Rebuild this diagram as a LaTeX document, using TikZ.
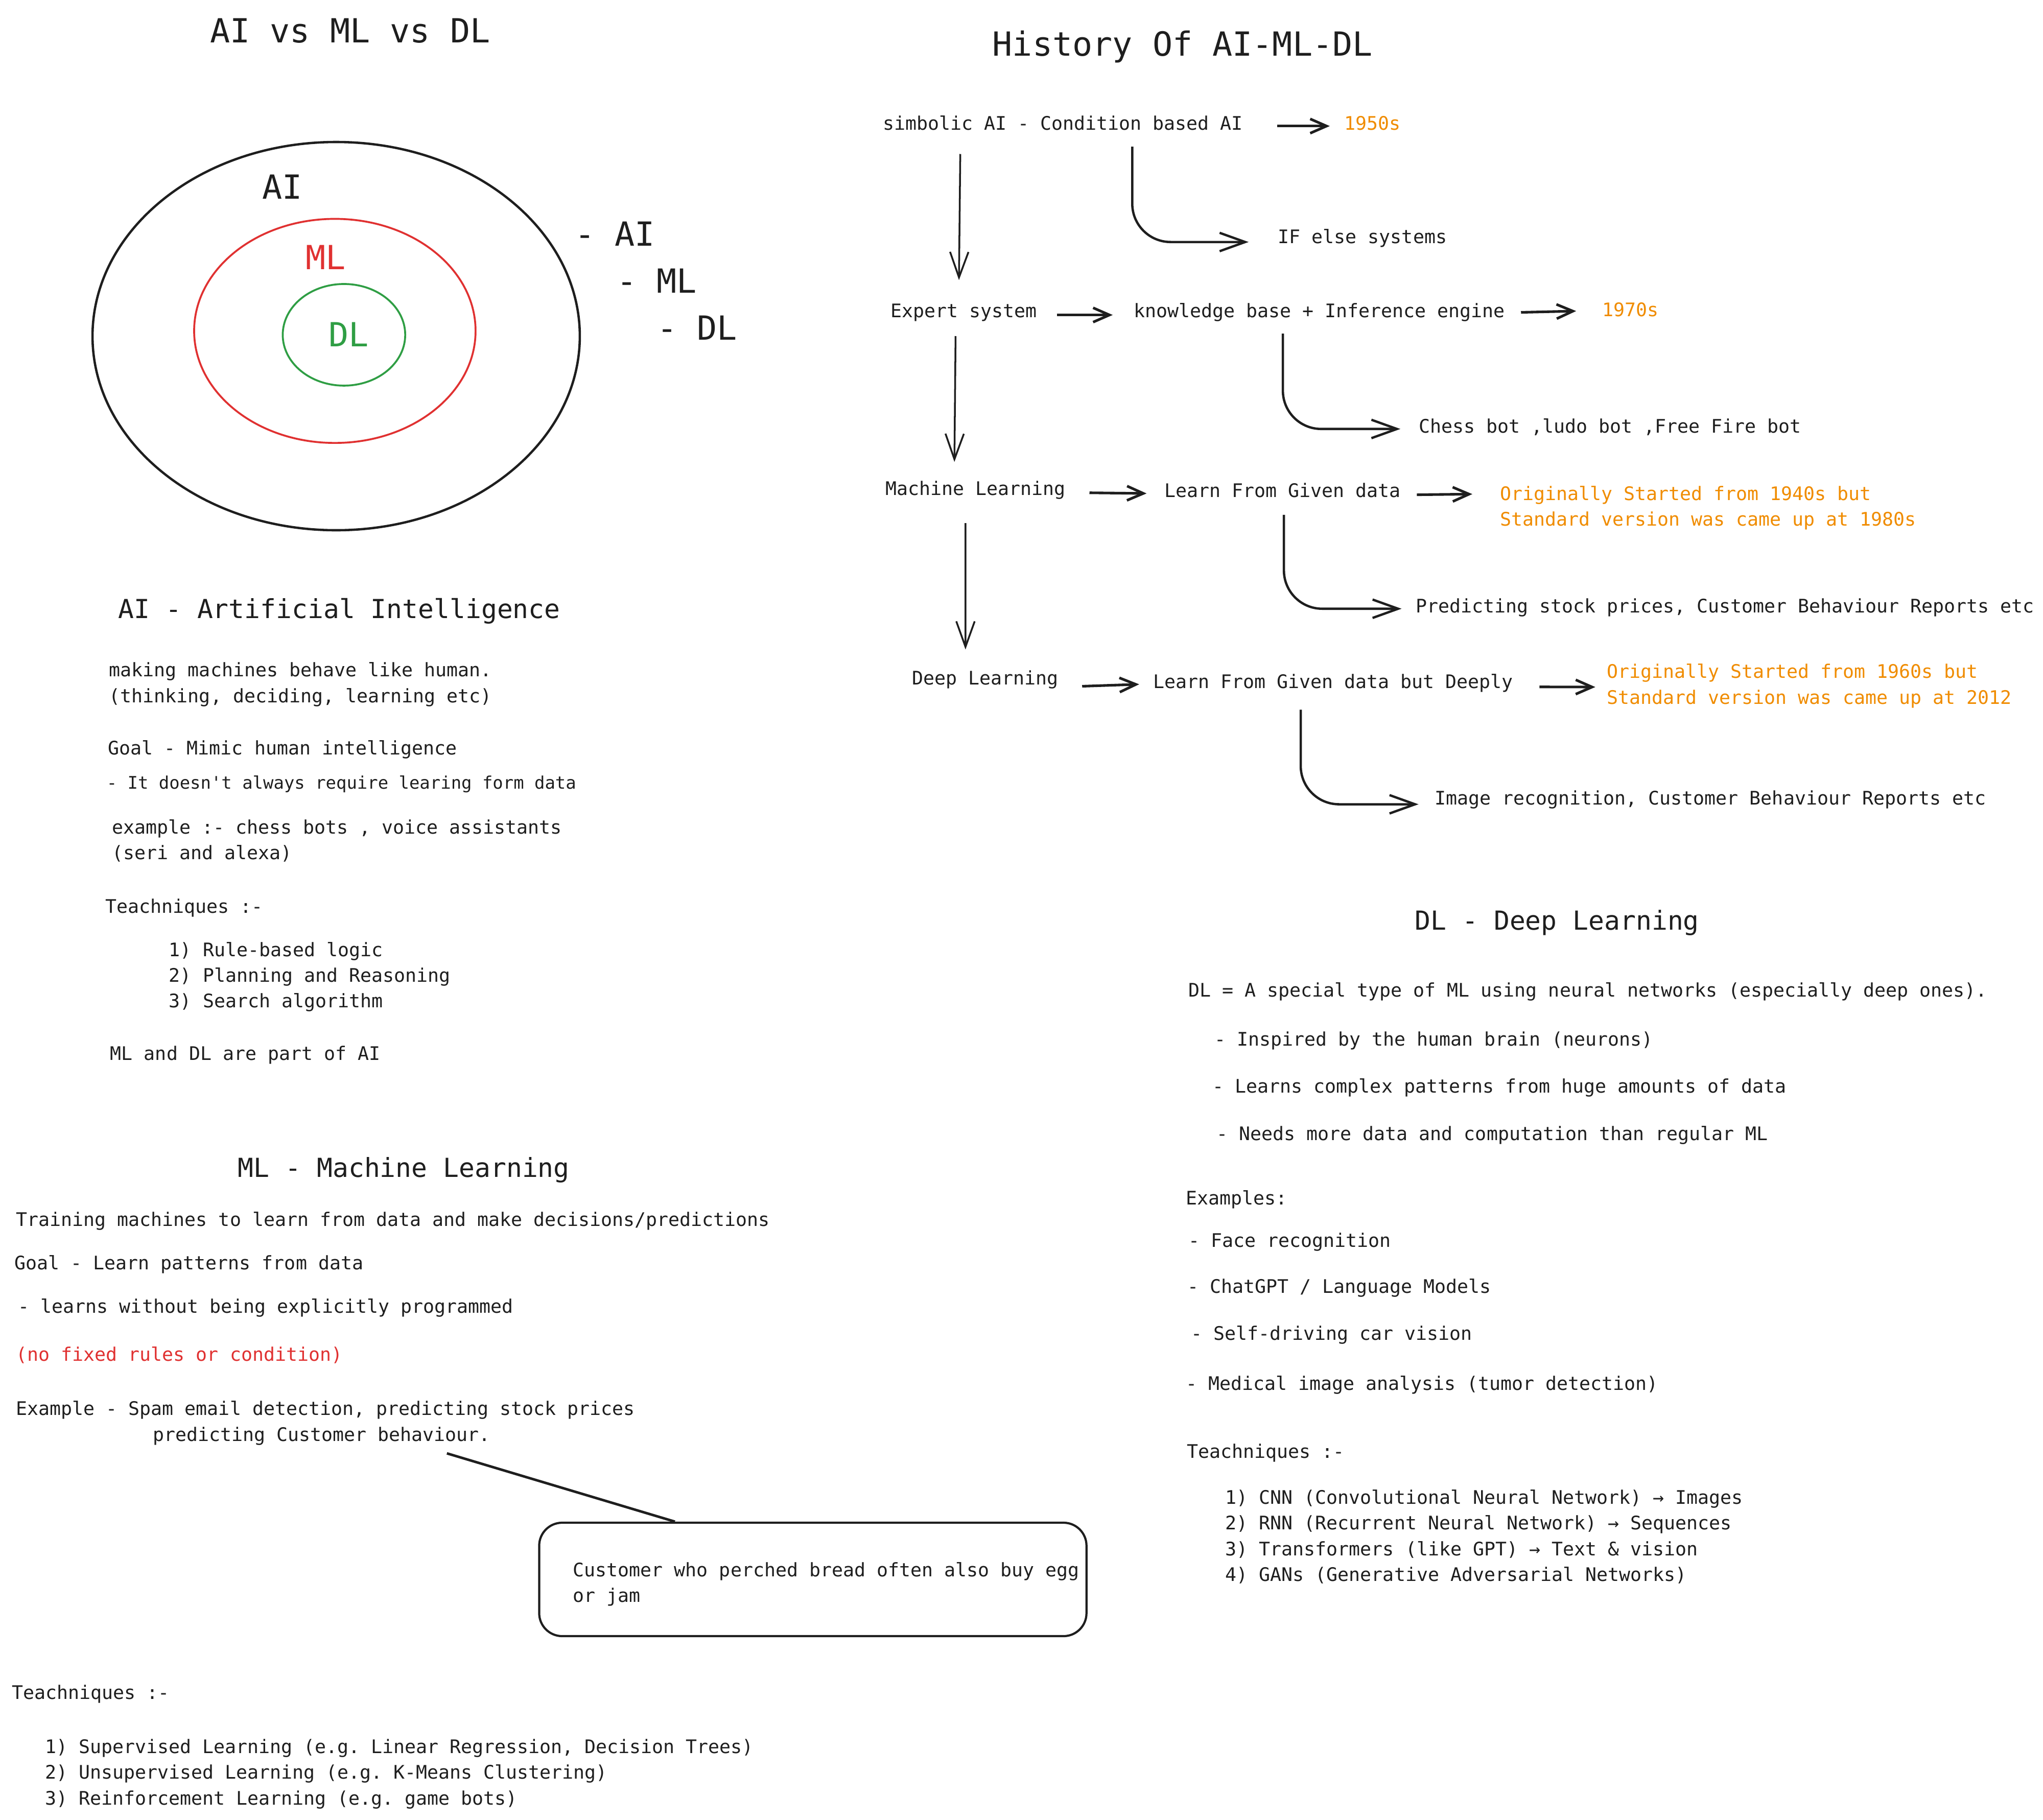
\documentclass[tikz,border=0pt]{standalone}
\usepackage{fontspec}
\setmonofont{DejaVu Sans Mono}
\usetikzlibrary{calc, arrows.meta}

\definecolor{exink}{HTML}{1E1E1E}
\definecolor{exorange}{HTML}{F08C00}
\definecolor{exred}{HTML}{E03131}
\definecolor{exgreen}{HTML}{2F9E44}

\newcommand{\bodyfont}{\ttfamily\frenchspacing\fontsize{10.4}{14.3}\selectfont}
\newcommand{\smallfont}{\ttfamily\frenchspacing\fontsize{9.65}{13.3}\selectfont}
\newcommand{\headfont}{\ttfamily\frenchspacing\fontsize{14.6}{17.5}\selectfont}
\newcommand{\handfont}{\ttfamily\frenchspacing\fontsize{18.5}{22}\selectfont}

\tikzset{
	txt/.style={anchor=mid west, inner sep=0pt, font=\bodyfont, text=exink, yshift=-0.45mm},
	lines/.style={txt, anchor=north west, align=left},
	head/.style={txt, font=\headfont, yshift=-0.5mm},
	hand/.style={txt, font=\handfont, yshift=-0.55mm},
	note/.style={txt, text=exorange},
	harrow/.style={exink, line width=1.45pt, -{Straight Barb[length=3.2mm,width=2.8mm]}},
	varrow/.style={exink, line width=1pt, -{Straight Barb[length=5mm,width=3.6mm]}},
	carrow/.style={exink, line width=1.3pt, rounded corners=0.75cm, -{Straight Barb[length=5mm,width=3.6mm]}},
}

\begin{document}
\begin{tikzpicture}[x=0.025504cm, y=-0.025504cm]
			\fill[white] (0,0) rectangle (1568,1397);
			\useasboundingbox (0,0) rectangle (1568,1397);
			
			% --- TOP LEFT: NESTED SETS ---
			\node[hand] (vs) at (161,26) {AI vs ML vs DL};
			
			\draw[exink, line width=1.3pt] (258,258) ellipse (187 and 149);
			\draw[exred, line width=1.05pt] (257,254) ellipse (108 and 86);
			\draw[exgreen, line width=1.05pt] (264,257) ellipse (47 and 39);
			\node[hand] (cai) at (201,146) {AI};
			\node[hand, text=exred] (cml) at (234.5,200) {ML};
			\node[hand, text=exgreen] (cdl) at (252,259) {DL};
			
			% Order of the sets
			\foreach \i/\x/\y/\t in {1/441/182/AI, 2/473/218/ML, 3/504/254/DL} {
				\node[hand] (lvl\i) at (\x,\y) {- \t};
			}
			
			% --- TOP RIGHT: HISTORY ---
			\node[hand] (hist) at (761.5,36) {History Of AI-ML-DL};
			
			\node[txt] (sym) at (677.5,95) {simbolic AI - Condition based AI};
			\node[note] (y50) at (1031.6,95) {1950s};
			\node[txt] (ifs) at (980.7,182) {IF else systems};
			
			\node[txt] (exp) at (683.4,239) {Expert system};
			\node[txt] (kb) at (870,239) {knowledge base + Inference engine};
			\node[note] (y70) at (1229.7,238) {1970s};
			\node[txt] (chess) at (1088.8,327.5) {Chess bot ,ludo bot ,Free Fire bot};
			
			\node[txt] (mlh) at (679.5,375.5) {Machine Learning};
			\node[txt] (lfd) at (893.6,377) {Learn From Given data};
			\node[lines, text=exorange] (y40) at (1151,371) {Originally Started from 1940s but\\Standard version was came up at 1980s};
			\node[txt] (pred) at (1086.4,465.5) {Predicting stock prices, Customer Behaviour Reports etc};
			
			\node[txt] (dlh) at (699.8,521) {Deep Learning};
			\node[txt] (lfdd) at (884.8,523.5) {Learn From Given data but Deeply};
			\node[lines, text=exorange] (y60) at (1233,507.6) {Originally Started from 1960s but\\Standard version was came up at 2012};
			\node[txt] (img) at (1101,613) {Image recognition, Customer Behaviour Reports etc};
			
			% Straight links
			\draw[harrow] ($(sym.mid east)+(26,0)$) -- ($(y50.mid west)+(-11,0)$);
			\draw[harrow] ($(exp.mid east)+(15,1)$) -- ($(kb.mid west)+(-16,1)$);
			\draw[harrow] ($(kb.mid east)+(12,-1)$) -- ($(y70.mid west)+(-20,-1)$);
			\draw[harrow] ($(mlh.mid east)+(18,1)$) -- ($(lfd.mid west)+(-13.6,0)$);
			\draw[harrow] ($(lfd.mid east)+(12,1)$) -- ($(y40.north west)+(-21,6.5)$);
			\draw[harrow] ($(dlh.mid east)+(18,4)$) -- ($(lfdd.mid west)+(-10.5,0)$);
			\draw[harrow] ($(lfdd.mid east)+(20,2)$) -- ($(y60.north west)+(-8.6,18)$);
			
			% Timeline
			\draw[varrow] ($(sym.south west)+(59.5,18)$) -- ($(exp.north west)+(52.6,-18)$);
			\draw[varrow] ($(exp.south west)+(50,11)$) -- ($(mlh.north west)+(53,-14.5)$);
			\draw[varrow] ($(mlh.south west)+(61.5,18)$) -- ($(dlh.north west)+(41.2,-16)$);
			
			% Examples
			\draw[carrow] ($(sym.south west)+(191.5,12.4)$) |- ($(ifs.mid west)+(-22.4,2)$);
			\draw[carrow] ($(kb.south west)+(114.6,9)$) |- ($(chess.mid west)+(-14,0)$);
			\draw[carrow] ($(lfd.south west)+(91.8,13)$) |- ($(pred.mid west)+(-10.7,0)$);
			\draw[carrow] ($(lfdd.south west)+(113.5,13.3)$) |- ($(img.mid west)+(-12.3,2.6)$);
			
			% --- LEFT: AI ---
			\node[head] (ait) at (90.5,468) {AI - Artificial Intelligence};
			\node[lines] (aid) at (83.6,506.5) {making machines behave like human.\\(thinking, deciding, learning etc)};
			\node[txt] (aig) at (82.8,574.5) {Goal - Mimic human intelligence};
			\node[txt, font=\smallfont] (ain) at (81.6,601) {- It doesn't always require learing form data};
			\node[lines] (aie) at (85.7,627) {example :- chess bots , voice assistants\\(seri and alexa)};
			\node[txt] (aitq) at (80.5,696) {Teachniques :-};
			\node[lines] (aitl) at (129.5,721) {1) Rule-based logic\\2) Planning and Reasoning\\3) Search algorithm};
			\node[txt] (aip) at (84.4,809) {ML and DL are part of AI};
			
			% --- LEFT: ML ---
			\node[head] (mlt) at (182.4,897) {ML - Machine Learning};
			\node[txt] (mld) at (12.2,936.5) {Training machines to learn from data and make decisions/predictions};
			\node[txt] (mlg) at (11,970) {Goal - Learn patterns from data};
			\node[txt] (mlx) at (13.8,1003) {- learns without being explicitly programmed};
			\node[txt, text=exred] (mlr) at (12.2,1040) {(no fixed rules or condition)};
			\node[txt] (ex1) at (12.2,1081.5) {Example - Spam email detection, predicting stock prices};
			\node[txt] (ex2) at (117,1101.5) {predicting Customer behaviour.};
			
			% Callout
			\node[draw=exink, line width=1.2pt, rounded corners=0.45cm, minimum width=10.71cm, minimum height=2.22cm, anchor=north west, inner sep=0pt] (bx) at (413,1168) {};
			\node[lines] (bxt) at (439.6,1197) {Customer who perched bread often also buy egg\\or jam};
			\draw[exink, line width=1.4pt] ($(ex2.south west)+(226,6)$) -- ($(bx.north west)+(105,0)$);
			
			\node[txt] (mltq) at (8.9,1299.5) {Teachniques :-};
			\node[lines] (mltl) at (34.3,1333) {1) Supervised Learning (e.g. Linear Regression, Decision Trees)\\2) Unsupervised Learning (e.g. K-Means Clustering)\\3) Reinforcement Learning (e.g. game bots)};
			
			% --- RIGHT: DL ---
			\node[head] (dlt) at (1085.7,707) {DL - Deep Learning};
			\node[txt] (dld) at (912,760.5) {DL = A special type of ML using neural networks (especially deep ones).};
			\node[txt] (dl1) at (931.9,798) {- Inspired by the human brain (neurons)};
			\node[txt] (dl2) at (930.5,834) {- Learns complex patterns from huge amounts of data};
			\node[txt] (dl3) at (933.6,870.5) {- Needs more data and computation than regular ML};
			
			\node[txt] (dlx) at (910,920) {Examples:};
			\node[txt] (dle1) at (912,952.5) {- Face recognition};
			\node[txt] (dle2) at (911,988) {- ChatGPT / Language Models};
			\node[txt] (dle3) at (913.9,1024) {- Self-driving car vision};
			\node[txt] (dle4) at (910,1062.5) {- Medical image analysis (tumor detection)};
			
			\node[txt] (dltq) at (910.6,1114.5) {Teachniques :-};
			\node[lines] (dltl) at (940.3,1141.5) {1) CNN (Convolutional Neural Network) → Images\\2) RNN (Recurrent Neural Network) → Sequences\\3) Transformers (like GPT) → Text \& vision\\4) GANs (Generative Adversarial Networks)};
		\end{tikzpicture}
\end{document}
